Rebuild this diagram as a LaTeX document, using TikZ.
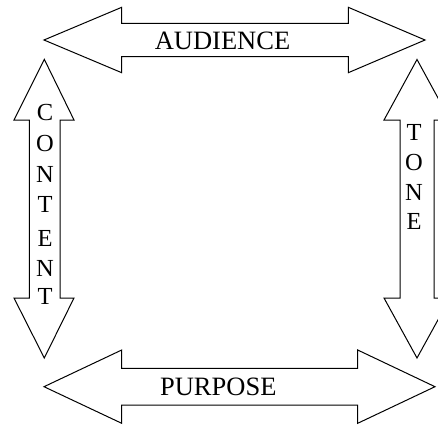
\documentclass[tikz,border=0pt]{standalone}
\usepackage{fontspec}
\setmainfont{Liberation Serif}
\tikzset{
  arrowshape/.style={draw=black, line width=1pt, fill=white, line join=miter},
  hlabel/.style={anchor=base, inner sep=0pt, font=\fontsize{26.5}{30}\selectfont},
  vletter/.style={anchor=base, inner sep=0pt, font=\fontsize{24.5}{28}\selectfont}
}
\begin{document}
\begin{tikzpicture}[x=1pt, y=-1pt]
\useasboundingbox (0,0) rectangle (438,425);
\clip (0,0) rectangle (438,425);
\fill[white] (0,0) rectangle (438,425);
% top arrow (AUDIENCE)
\draw[arrowshape] (44,40) -- (121.7,7.3) -- (121.7,23.5) -- (348.3,23.5) -- (348.3,7.3) -- (425,40)
  -- (348.3,72.7) -- (348.3,56.7) -- (121.7,56.7) -- (121.7,72.7) -- cycle;
% bottom arrow (PURPOSE)
\draw[arrowshape] (44,386.7) -- (121.7,350) -- (121.7,368.3) -- (357.7,368.3) -- (357.7,350) -- (435,386.7)
  -- (357.7,423.3) -- (357.7,405) -- (121.7,405) -- (121.7,423.3) -- cycle;
% left arrow (CONTENT)
\draw[arrowshape] (44.3,59.3) -- (74,120) -- (60,120) -- (60,298) -- (74,298) -- (44.3,358)
  -- (14,298) -- (29.3,298) -- (29.3,120) -- (14,120) -- cycle;
% right arrow (TONE)
\draw[arrowshape] (417,59.5) -- (450,120) -- (434,120) -- (434,298) -- (450,298) -- (417,358)
  -- (384,298) -- (400,298) -- (400,120) -- (384,120) -- cycle;
% labels
\node[hlabel] (audience) at (222.5,50) {AUDIENCE};
\node[hlabel] (purpose) at (218.3,395) {PURPOSE};
\node[vletter] (c1) at (45,120.5) {C};
\node[vletter] (c2) at (45,151.5) {O};
\node[vletter] (c3) at (45,182) {N};
\node[vletter] (c4) at (45,212.7) {T};
\node[vletter] (c5) at (45,246.2) {E};
\node[vletter] (c6) at (45,276.7) {N};
\node[vletter] (c7) at (45,304.5) {T};
\node[vletter] (t1) at (414,140.5) {T};
\node[vletter] (t2) at (414,170.5) {O};
\node[vletter] (t3) at (414,200.5) {N};
\node[vletter] (t4) at (414,229.5) {E};
\end{tikzpicture}
\end{document}
